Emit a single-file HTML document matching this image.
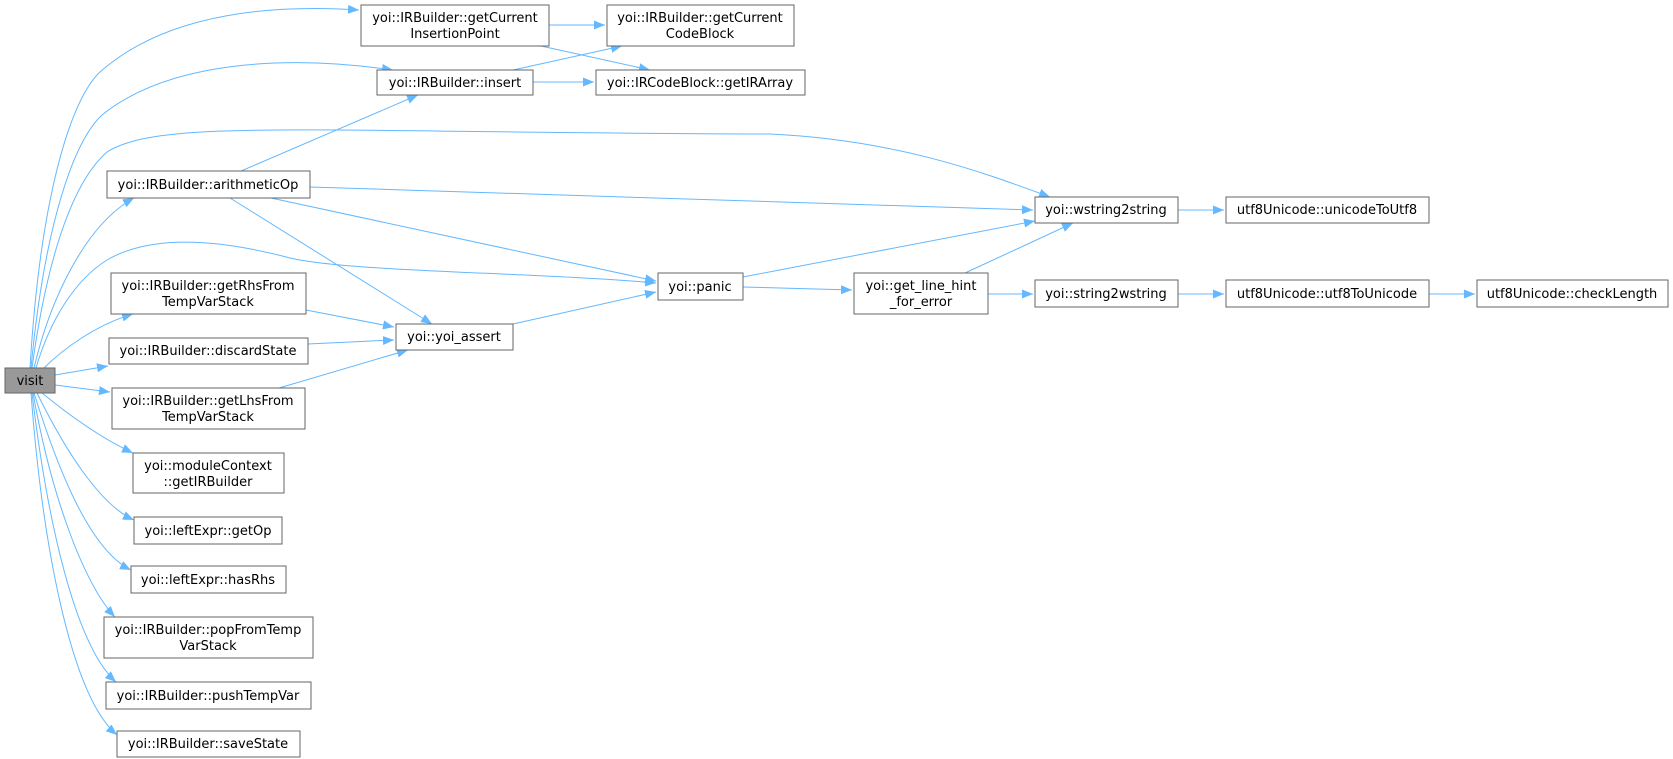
<!DOCTYPE html>
<html><head><meta charset="utf-8"><style>
body{margin:0;background:#fff}
svg{display:block}
text{font-family:"DejaVu Sans","Liberation Sans",sans-serif;font-size:13px;fill:#000}
.n{fill:#fff;stroke:#666;stroke-width:1}
.e{fill:none;stroke:#63b8ff;stroke-width:1}
</style></head><body>
<svg width="1673" height="759" viewBox="0 0 1673 759" xmlns="http://www.w3.org/2000/svg">
<defs><marker id="a" markerUnits="userSpaceOnUse" markerWidth="12" markerHeight="10" refX="11" refY="4.5" orient="auto"><path d="M0,0 L11,4.5 L0,9 z" fill="#63b8ff"/></marker></defs>
<g class="e" marker-end="url(#a)">
<path d="M30,368 C40,200 70,100 100,72 C170,10 280,5 359,10"/>
<path d="M31,368 C45,220 75,140 102,115 C170,60 290,55 393,70"/>
<path d="M32,368 C48,250 75,180 107,152 C160,118 320,133 770,134 C900,140 990,175 1050,197"/>
<path d="M34,368 C50,300 85,225 134,198"/>
<path d="M36,368 C50,320 75,280 107,260 C150,235 215,238 290,258 C350,272 530,272 656,283"/>
<path d="M44,368 C62,350 95,325 133,314"/>
<path d="M55,375 L108,366"/>
<path d="M55,385 L110,392"/>
<path d="M42,393 C75,420 105,440 133,453"/>
<path d="M37,393 C65,450 100,505 134,520"/>
<path d="M34,393 C58,470 90,550 131,570"/>
<path d="M33,393 C52,500 85,585 115,617"/>
<path d="M32,393 C47,520 75,645 116,682"/>
<path d="M31,393 C42,540 70,695 117,735"/>
<path d="M549,25 L605,25"/>
<path d="M541,46 L650,70"/>
<path d="M513,70 L622,46"/>
<path d="M533,82 L594,82"/>
<path d="M241,171 L418,95"/>
<path d="M310,187 L1033,210"/>
<path d="M271,198 L656,281"/>
<path d="M230,198 L432,324"/>
<path d="M306,310 L394,327"/>
<path d="M308,344 L394,340"/>
<path d="M279,388 L408,350"/>
<path d="M513,324 L656,292"/>
<path d="M743,277 L1035,221"/>
<path d="M743,287 L852,290"/>
<path d="M965,273 L1073,223"/>
<path d="M988,294 L1033,294"/>
<path d="M1178,210 L1224,210"/>
<path d="M1178,294 L1224,294"/>
<path d="M1429,294 L1475,294"/>
</g>
<g text-anchor="middle">
<rect x="5" y="368" width="50" height="25" fill="#999" stroke="#666"/><text x="30" y="385">visit</text>
<rect class="n" x="361" y="5" width="188" height="41"/><text x="455" y="22">yoi::IRBuilder::getCurrent</text><text x="455" y="38">InsertionPoint</text>
<rect class="n" x="607" y="5" width="187" height="41"/><text x="700" y="22">yoi::IRBuilder::getCurrent</text><text x="700" y="38">CodeBlock</text>
<rect class="n" x="377" y="70" width="156" height="25"/><text x="455" y="87">yoi::IRBuilder::insert</text>
<rect class="n" x="596" y="70" width="209" height="25"/><text x="700" y="87">yoi::IRCodeBlock::getIRArray</text>
<rect class="n" x="107" y="171" width="203" height="27"/><text x="208" y="189">yoi::IRBuilder::arithmeticOp</text>
<rect class="n" x="1035" y="197" width="143" height="26"/><text x="1106" y="214">yoi::wstring2string</text>
<rect class="n" x="1226" y="197" width="203" height="26"/><text x="1327" y="214">utf8Unicode::unicodeToUtf8</text>
<rect class="n" x="658" y="273" width="85" height="27"/><text x="700" y="291">yoi::panic</text>
<rect class="n" x="854" y="273" width="134" height="41"/><text x="921" y="290">yoi::get_line_hint</text><text x="921" y="306">_for_error</text>
<rect class="n" x="1035" y="280" width="143" height="27"/><text x="1106" y="298">yoi::string2wstring</text>
<rect class="n" x="1226" y="280" width="203" height="27"/><text x="1327" y="298">utf8Unicode::utf8ToUnicode</text>
<rect class="n" x="1477" y="280" width="191" height="27"/><text x="1572" y="298">utf8Unicode::checkLength</text>
<rect class="n" x="111" y="273" width="195" height="41"/><text x="208" y="290">yoi::IRBuilder::getRhsFrom</text><text x="208" y="306">TempVarStack</text>
<rect class="n" x="396" y="324" width="117" height="26"/><text x="454" y="341">yoi::yoi_assert</text>
<rect class="n" x="109" y="338" width="199" height="26"/><text x="208" y="355">yoi::IRBuilder::discardState</text>
<rect class="n" x="112" y="388" width="193" height="41"/><text x="208" y="405">yoi::IRBuilder::getLhsFrom</text><text x="208" y="421">TempVarStack</text>
<rect class="n" x="133" y="453" width="151" height="40"/><text x="208" y="470">yoi::moduleContext</text><text x="208" y="486">::getIRBuilder</text>
<rect class="n" x="134" y="517" width="148" height="27"/><text x="208" y="535">yoi::leftExpr::getOp</text>
<rect class="n" x="131" y="566" width="155" height="27"/><text x="208" y="584">yoi::leftExpr::hasRhs</text>
<rect class="n" x="104" y="617" width="209" height="41"/><text x="208" y="634">yoi::IRBuilder::popFromTemp</text><text x="208" y="650">VarStack</text>
<rect class="n" x="106" y="682" width="205" height="27"/><text x="208" y="700">yoi::IRBuilder::pushTempVar</text>
<rect class="n" x="117" y="731" width="183" height="26"/><text x="208" y="748">yoi::IRBuilder::saveState</text>
</g>
</svg>
</body></html>
